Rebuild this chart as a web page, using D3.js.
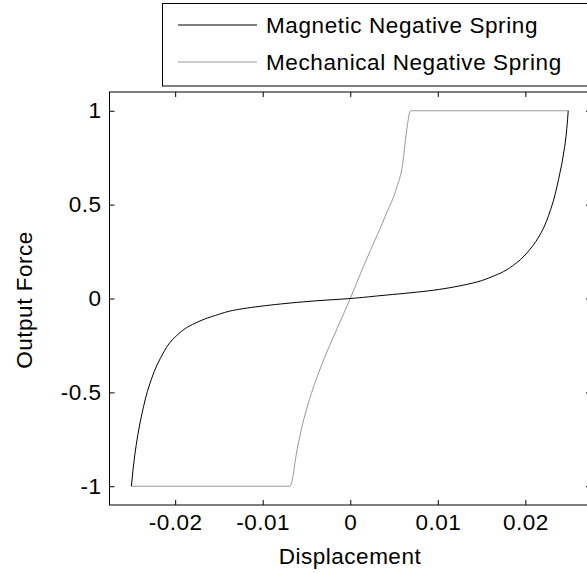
<!DOCTYPE html>
<html>
<head>
<meta charset="utf-8">
<script src="https://cdn.jsdelivr.net/npm/d3@7"></script>
<style>
  body { margin: 0; background: #fff; }
  svg text { font-family: "Liberation Sans", Arial, Helvetica, sans-serif; fill: #000; }
</style>
</head>
<body>
<div id="chart-area"></div>
<script>
// magnetic negative spring
var magDisp  = [-0.0250, -0.0246, -0.0238, -0.0229, -0.0217, -0.0200, -0.0183, -0.0154, -0.0130, -0.0091, -0.0038, 0,
                0.0034, 0.0088, 0.0133, 0.0168, 0.0190, 0.0205, 0.0218, 0.0229, 0.0238, 0.0245, 0.0249];
var magForce = [-1.00, -0.83, -0.615, -0.455, -0.32, -0.205, -0.145, -0.09, -0.06, -0.035, -0.012, 0,
                0.015, 0.040, 0.075, 0.128, 0.19, 0.26, 0.35, 0.475, 0.635, 0.81, 1.00];

// mechanical negative spring
var mechDisp  = [-0.0250, -0.0069, -0.0066, -0.0062, -0.0056, -0.0048, -0.0034, -0.0015, 0,
                 0.0015, 0.0031, 0.0042, 0.0053, 0.0060, 0.0064, 0.0069, 0.0249];
var mechForce = [-1.00, -1.00, -0.96, -0.84, -0.70, -0.56, -0.37, -0.16, 0,
                 0.17, 0.34, 0.46, 0.59, 0.72, 0.88, 1.00, 1.00];

var xTicks = [-0.02, -0.01, 0, 0.01, 0.02];
var yTicks = [-1, -0.5, 0, 0.5, 1];
var seriesNames = ["Magnetic Negative Spring", "Mechanical Negative Spring"];
var seriesColors = ["#000000", "#999999"];

var W = 587, H = 573;
var margin = { top: 92, right: -4, bottom: 68, left: 109.5 },
    width = W - margin.left - margin.right,
    height = H - margin.top - margin.bottom;

var svg = d3.select("#chart-area")
    .append("svg")
    .attr("width", W)
    .attr("height", H);

var g = svg.append("g")
    .attr("transform", "translate(" + margin.left + "," + margin.top + ")");

var x = d3.scaleLinear().domain([-0.0275, 0.0275]).range([0, width]);
var y = d3.scaleLinear().domain([-1.1, 1.1]).range([height, 0]);

var fmt = d => d === 0 ? "0" : String(d);

function styleAxis(sel) {
    sel.select(".domain").remove();
    sel.selectAll("line").attr("stroke", "#000").attr("stroke-width", 1);
    sel.selectAll("text").style("font-size", "22.5px").style("letter-spacing", "0.5px");
}

g.append("g")
    .attr("transform", "translate(0," + height + ")")
    .call(d3.axisBottom(x).tickValues(xTicks).tickFormat(fmt).tickSizeInner(-5).tickSizeOuter(0).tickPadding(9))
    .call(styleAxis);

g.append("g")
    .call(d3.axisTop(x).tickValues(xTicks).tickFormat("").tickSizeInner(-5).tickSizeOuter(0))
    .call(styleAxis);

g.append("g")
    .call(d3.axisLeft(y).tickValues(yTicks).tickFormat(fmt).tickSizeInner(-5).tickSizeOuter(0).tickPadding(8))
    .call(styleAxis);

g.append("g")
    .attr("transform", "translate(" + width + ",0)")
    .call(d3.axisRight(y).tickValues(yTicks).tickFormat("").tickSizeInner(-5).tickSizeOuter(0))
    .call(styleAxis);

// frame
g.append("rect")
    .attr("x", 0).attr("y", 0)
    .attr("width", width).attr("height", height)
    .attr("fill", "none")
    .attr("stroke", "#000")
    .attr("stroke-width", 1);

// mechanical has flat runs, so smooth along x; magnetic is steep at the ends, so smooth along y
var mechLine = d3.line()
    .curve(d3.curveMonotoneX)
    .x(d => x(d[0]))
    .y(d => y(d[1]));

var magLine = d3.line()
    .curve(d3.curveMonotoneY)
    .x(d => x(d[0]))
    .y(d => y(d[1]));

g.append("path")
    .datum(mechDisp.map((d, i) => [d, mechForce[i]]))
    .attr("fill", "none")
    .attr("stroke", seriesColors[1])
    .attr("stroke-width", 1)
    .attr("d", mechLine);

g.append("path")
    .datum(magDisp.map((d, i) => [d, magForce[i]]))
    .attr("fill", "none")
    .attr("stroke", seriesColors[0])
    .attr("stroke-width", 1)
    .attr("d", magLine);

// axis labels
svg.append("text")
    .attr("x", 350)
    .attr("y", 564)
    .attr("text-anchor", "middle")
    .style("font-size", "22.5px")
    .style("letter-spacing", "0.5px")
    .text("Displacement");

svg.append("text")
    .attr("transform", "translate(32,300) rotate(-90)")
    .attr("text-anchor", "middle")
    .style("font-size", "22.5px")
    .style("letter-spacing", "0.5px")
    .text("Output Force");

// legend
var legend = svg.append("g");

legend.append("rect")
    .attr("x", 162.5).attr("y", 3.5)
    .attr("width", 440).attr("height", 82.5)
    .attr("fill", "#fff")
    .attr("stroke", "#000")
    .attr("stroke-width", 1);

seriesNames.forEach((name, i) => {
    var ly = 25 + i * 37;
    legend.append("line")
        .attr("x1", 178).attr("x2", 257)
        .attr("y1", ly).attr("y2", ly)
        .attr("stroke", seriesColors[i])
        .attr("stroke-width", 1);
    legend.append("text")
        .attr("x", 266)
        .attr("y", ly + 8)
        .style("font-size", "22.5px")
        .style("letter-spacing", "0.6px")
        .text(name);
});
</script>
</body>
</html>
